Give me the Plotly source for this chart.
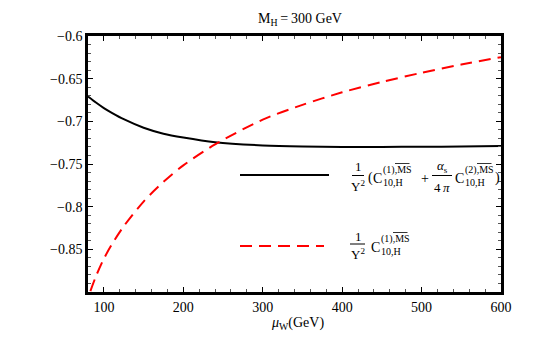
import plotly.graph_objects as go

# values
mu_w_black = [80, 90, 100, 110, 125, 150, 175, 200, 240, 300, 350, 400, 450, 500, 550, 600]
c10_nlo = [-0.671, -0.678, -0.6845, -0.690, -0.6975, -0.7075, -0.7145, -0.719,
           -0.7245, -0.7282, -0.7295, -0.730, -0.730, -0.7298, -0.7295, -0.729]

mu_w_red = [83, 90, 100, 110, 125, 150, 175, 200, 240, 300, 350, 400, 450, 500, 550, 600]
c10_lo = [-0.899, -0.8816, -0.861, -0.8443, -0.823, -0.794, -0.771, -0.7516,
          -0.727, -0.698, -0.6807, -0.666, -0.6539, -0.6431, -0.6335, -0.6248]

y_ticks = [-0.85, -0.8, -0.75, -0.7, -0.65, -0.6]
y_labels = ["\u22120.85", "\u22120.8", "\u22120.75", "\u22120.7", "\u22120.65", "\u22120.6"]
x_ticks = [100, 200, 300, 400, 500, 600]

FONT = "Liberation Serif"
W, H = 556, 344
L, R, T, B = 88, 501, 36, 292  # plot area in pixels


def pp(px, py):
    # pixel position -> paper coords
    return (px - L) / (R - L), (B - py) / (B - T)


fig = go.Figure()
fig.add_trace(go.Scatter(x=mu_w_black, y=c10_nlo, mode="lines", line_shape="spline",
                         line=dict(color="black", width=2, smoothing=0.8), showlegend=False))
fig.add_trace(go.Scatter(x=mu_w_red, y=c10_lo, mode="lines", line_shape="spline",
                         line=dict(color="red", width=2, dash="12px,7px", smoothing=0.8), showlegend=False))

ann = []
shapes = []


def txt(s, px, py, size=13, xanchor="center"):
    x, y = pp(px, py)
    ann.append(dict(text=s, x=x, y=y, xref="paper", yref="paper", showarrow=False,
                    xanchor=xanchor, yanchor="middle", font=dict(family=FONT, size=size, color="black")))


def hline(x0, x1, py, color="black", width=1, dash=None):
    a, y = pp(x0, py)
    b, _ = pp(x1, py)
    line = dict(color=color, width=width)
    if dash:
        line["dash"] = dash
    shapes.append(dict(type="line", xref="paper", yref="paper", x0=a, x1=b, y0=y, y1=y, line=line))


def coef(px, py, n):
    # C with stacked super/subscript, overline above MS
    txt("C", px, py, 14, "left")
    sx = px + 9.5
    txt("(%d),MS" % n, sx, py - 8, 10, "left")
    txt("10,H", sx, py + 4, 10, "left")
    hline(sx + 14.5, sx + 29, py - 14.5, width=0.8)


# legend entry 1 (black)
hline(240, 329, 175, "black", 2)
txt("1", 358, 166, 13)
hline(352, 364, 175.5)
txt("Y<sup>2</sup>", 358, 186, 13)
txt("(", 366, 178, 14, "left")
coef(371, 178, 1)
txt("+", 425, 178, 14)
txt("<i>\u03b1</i><sub>s</sub>", 442, 166, 13)
hline(432, 452, 175.5)
txt("4\u2009<i>\u03c0</i>", 442, 187, 13)
coef(453, 178, 2)
txt(")", 493, 178, 14, "left")

# legend entry 2 (red)
hline(240, 324, 246, "red", 2, "12px,7px")
txt("1", 358, 236, 13)
hline(350, 365, 244)
txt("Y<sup>2</sup>", 358, 254, 13)
coef(369, 247, 1)

# title and x title
txt("M<sub>H</sub>\u2009=\u2009300 GeV", 300, 19, 14)
txt("<i>\u03bc</i><sub>W</sub>(GeV)", 297, 323, 14)

axis_common = dict(showline=True, linecolor="black", linewidth=2.5, mirror="allticks",
                   ticks="inside", ticklen=5, tickcolor="black", tickwidth=1,
                   showgrid=False, zeroline=False,
                   tickfont=dict(family=FONT, size=14, color="black"))

fig.update_xaxes(range=[80, 600], tickvals=x_ticks, ticklabelstandoff=0,
                 minor=dict(ticks="inside", dtick=20, tick0=0, ticklen=3, tickcolor="#555", showgrid=False),
                 **axis_common)
fig.update_yaxes(range=[-0.9, -0.6], tickvals=y_ticks, ticktext=y_labels, ticklabelstandoff=0,
                 minor=dict(ticks="inside", dtick=0.01, tick0=-0.9, ticklen=3, tickcolor="#555", showgrid=False),
                 **axis_common)

fig.update_layout(width=W, height=H, margin=dict(l=L, r=W - R, t=T, b=H - B),
                  font=dict(family=FONT, size=14, color="black"),
                  plot_bgcolor="white", paper_bgcolor="white",
                  annotations=ann, shapes=shapes)

fig.write_html("out.html", config={"displayModeBar": False},
               post_script="document.body.style.margin='0px';")
